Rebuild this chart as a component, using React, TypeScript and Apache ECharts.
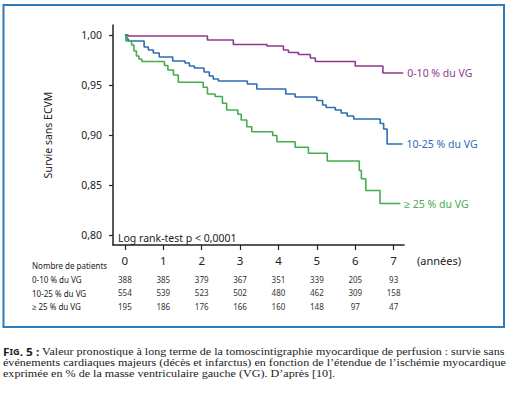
import React, { useEffect, useRef } from "react";
import * as echarts from "echarts";

// Kaplan–Meier curves: [years, survival]
const group010: [number, number][] = [
  [0, 1.0], [0.08, 0.999], [2.15, 0.995], [2.825, 0.9905], [3.7, 0.989], [4.13, 0.985],
  [4.26, 0.9825], [4.52, 0.9805], [4.83, 0.977], [4.96, 0.9735], [6.0, 0.969],
  [6.72, 0.962], [7.25, 0.962],
];
const group1025: [number, number][] = [
  [0, 1.0], [0.05, 0.996], [0.09, 0.994], [0.5, 0.988], [0.61, 0.985], [0.74, 0.982],
  [0.895, 0.978], [1.245, 0.974], [1.565, 0.972], [1.68, 0.969], [1.81, 0.967],
  [2.06, 0.963], [2.2, 0.959], [2.3, 0.956], [2.435, 0.954], [3.19, 0.951],
  [3.435, 0.946], [4.19, 0.941], [4.435, 0.938], [5.0, 0.9345], [5.15, 0.93],
  [5.245, 0.9275], [5.48, 0.925], [5.635, 0.922], [5.79, 0.919], [5.96, 0.916],
  [6.65, 0.9115], [6.74, 0.906], [6.83, 0.891], [7.23, 0.891],
];
const group25: [number, number][] = [
  [0, 1.0], [0.026, 0.994], [0.175, 0.99], [0.235, 0.984], [0.3, 0.979], [0.365, 0.976],
  [0.44, 0.9735], [1.03, 0.9695], [1.12, 0.965], [1.265, 0.96], [1.39, 0.9527],
  [2.04, 0.9477], [2.15, 0.941], [2.35, 0.9385], [2.54, 0.9317], [2.65, 0.925],
  [2.94, 0.9207], [3.03, 0.915], [3.175, 0.9083], [3.305, 0.9033], [3.85, 0.8995],
  [3.96, 0.8933], [4.435, 0.8877], [4.78, 0.8817], [5.27, 0.874], [6.105, 0.8645],
  [6.16, 0.8563], [6.275, 0.8445], [6.645, 0.8315], [7.175, 0.8315],
];

const seriesNames = ["0-10 % du VG", "10-25 % du VG", "≥ 25 % du VG"];
const yearTicks = [0, 1, 2, 3, 4, 5, 6, 7];
const survivalTicks = [0.8, 0.85, 0.9, 0.95, 1.0];
const atRisk010 = [388, 385, 379, 367, 351, 339, 205, 93];
const atRisk1025 = [554, 539, 523, 502, 480, 462, 309, 158];
const atRisk25 = [195, 186, 176, 166, 160, 148, 97, 47];

const COLORS = ["#8e3a8c", "#2d6cb3", "#45ad4e"];
const FONT = "'Noto Sans', sans-serif";
const SERIF = "'Liberation Serif', serif";
const X_MIN = -0.31;
const X_MAX = 7.27;

export default function App() {
  const ref = useRef<HTMLDivElement>(null);
  useEffect(() => {
    if (!ref.current) return;
    const chart = echarts.init(ref.current, undefined, { renderer: "svg" });

    const countAxis = (counts: number[], offset: number) => ({
      type: "value" as const,
      min: X_MIN,
      max: X_MAX,
      position: "bottom" as const,
      offset,
      axisLine: { show: false, onZero: false },
      axisTick: { show: false },
      splitLine: { show: false },
      axisLabel: {
        customValues: yearTicks,
        margin: 0,
        fontSize: 8,
        color: "#333",
        fontFamily: FONT,
        verticalAlign: "top" as const,
        formatter: (v: number) => String(counts[Math.round(v)]),
      },
    });

    const captionStyle = {
      fontSize: 11.2,
      fontFamily: SERIF,
      fill: "#222",
      verticalAlign: "top" as const,
      lineHeight: 10.5,
    };

    const datasets = [group010, group1025, group25];
    chart.setOption({
      animation: false,
      textStyle: { fontFamily: FONT },
      grid: { left: 113, right: 105, top: 25, bottom: 148, containLabel: false, outerBoundsMode: "none" },
      xAxis: [
        {
          type: "value",
          min: X_MIN,
          max: X_MAX,
          position: "bottom",
          axisLine: { show: true, onZero: false, lineStyle: { color: "#222", width: 1.5 } },
          axisTick: { show: true, customValues: yearTicks, length: 5, lineStyle: { color: "#222", width: 1.2 } },
          splitLine: { show: false },
          axisLabel: {
            customValues: yearTicks,
            margin: 9,
            fontSize: 11.5,
            color: "#222",
            fontFamily: FONT,
            formatter: (v: number) => String(Math.round(v)),
          },
        },
        countAxis(atRisk010, 30),
        countAxis(atRisk1025, 43),
        countAxis(atRisk25, 57),
      ],
      yAxis: {
        type: "value",
        min: 0.79,
        max: 1.01,
        name: "Survie sans ECVM",
        nameLocation: "middle",
        nameRotate: 90,
        nameGap: 60,
        nameTextStyle: { fontSize: 10.5, color: "#222", fontFamily: FONT },
        axisLine: { show: true, onZero: false, lineStyle: { color: "#222", width: 1.5 } },
        axisTick: { show: true, customValues: survivalTicks, length: 4, lineStyle: { color: "#222", width: 1.2 } },
        splitLine: { show: false },
        axisLabel: {
          customValues: survivalTicks,
          margin: 11,
          fontSize: 10.5,
          color: "#222",
          fontFamily: FONT,
          formatter: (v: number) => v.toFixed(2).replace(".", ","),
        },
      },
      series: datasets.map((d, i) => ({
        type: "line",
        name: seriesNames[i],
        data: d,
        step: "end",
        showSymbol: false,
        xAxisIndex: 0,
        lineStyle: { color: COLORS[i], width: 1.6 },
        itemStyle: { color: COLORS[i] },
        endLabel: {
          show: true,
          formatter: seriesNames[i],
          color: COLORS[i],
          fontSize: 10.5,
          fontFamily: FONT,
          distance: 4,
        },
      })),
      graphic: [
        {
          type: "rect",
          shape: { x: 3.5, y: 5, width: 500.5, height: 322 },
          style: { fill: "none", stroke: "#2f7cbd", lineWidth: 2 },
          silent: true,
        },
        {
          type: "text",
          x: 118,
          y: 238,
          style: { text: "Log rank-test p < 0,0001", fontSize: 10.5, fontFamily: FONT, fill: "#222", verticalAlign: "middle" },
        },
        {
          type: "text",
          x: 417,
          y: 260,
          style: { text: "(années)", fontSize: 11, fontFamily: FONT, fill: "#222", verticalAlign: "middle" },
        },
        {
          type: "text",
          x: 32,
          y: 265,
          style: { text: "Nombre de patients", fontSize: 8, fontFamily: FONT, fill: "#222", verticalAlign: "middle" },
        },
        ...seriesNames.map((n, i) => ({
          type: "text",
          x: 32,
          y: [279.5, 293, 306.5][i],
          style: { text: n, fontSize: 8, fontFamily: FONT, fill: "#222", verticalAlign: "middle" },
        })),
        {
          type: "text",
          x: 3,
          y: 346.5,
          scaleX: 1.078,
          style: {
            ...captionStyle,
            text: "{b1|F}{b2|IG}{b1|. 5 :} Valeur pronostique à long terme de la tomoscintigraphie myocardique de perfusion : survie sans",
            rich: {
              b1: { fontSize: 11, fontWeight: "bold", fontFamily: FONT, fill: "#222", lineHeight: 10.5 },
              b2: { fontSize: 8.5, fontWeight: "bold", fontFamily: FONT, fill: "#222", lineHeight: 10.5 },
            },
          },
        },
        {
          type: "text",
          x: 3,
          y: 357.5,
          scaleX: 1.082,
          style: {
            ...captionStyle,
            text: "événements cardiaques majeurs (décès et infarctus) en fonction de l’étendue de l’ischémie myocardique",
          },
        },
        {
          type: "text",
          x: 3,
          y: 368.5,
          scaleX: 1.082,
          style: {
            ...captionStyle,
            text: "exprimée en % de la masse ventriculaire gauche (VG). D’après [10].",
          },
        },
      ],
    });
    return () => chart.dispose();
  }, []);
  return (
    <div
      ref={ref}
      style={{ position: "fixed", left: 0, top: 0, width: 509, height: 393, background: "#fff" }}
    />
  );
}
